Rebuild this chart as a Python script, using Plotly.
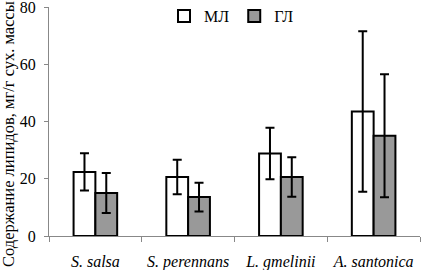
import plotly.graph_objects as go

categories = ["S. salsa", "S. perennans", "L. gmelinii", "A. santonica"]
ml_values = [22.4, 20.6, 28.8, 43.5]
ml_errors = [6.5, 6.0, 9.0, 28.0]
gl_values = [15.0, 13.6, 20.6, 35.0]
gl_errors = [7.0, 5.0, 6.9, 21.5]
series_names = ["МЛ", "ГЛ"]
y_ticks = [0, 20, 40, 60, 80]
y_title = "Содержание липидов, мг/г сух. массы"

font_family = "Liberation Serif"
cat_labels = [f"<i>{c}</i>" for c in categories]

fig = go.Figure()
fig.add_trace(go.Bar(
    x=cat_labels, y=ml_values, name=series_names[0],
    marker=dict(color="white", line=dict(color="black", width=2)),
    error_y=dict(type="data", array=ml_errors, color="black", thickness=2, width=4.5),
))
fig.add_trace(go.Bar(
    x=cat_labels, y=gl_values, name=series_names[1],
    marker=dict(color="#999999", line=dict(color="black", width=2)),
    error_y=dict(type="data", array=gl_errors, color="black", thickness=2, width=4.5),
))

fig.update_layout(
    width=421, height=270,
    margin=dict(l=49, r=1, t=7, b=34, autoexpand=False),
    paper_bgcolor="white", plot_bgcolor="white",
    barmode="group", bargap=0.53, bargroupgap=0,
    font=dict(family=font_family, size=15, color="black"),
    showlegend=True,
    legend=dict(orientation="h", x=0.31, y=0.96, xanchor="left", yanchor="middle",
                font=dict(size=16), bgcolor="rgba(0,0,0,0)",
                itemwidth=30, tracegroupgap=0),
    annotations=[dict(
        text=y_title, textangle=-90, xref="paper", yref="paper",
        x=(8 - 49) / 371, y=(236 - 134) / 229, xanchor="center", yanchor="middle",
        showarrow=False, font=dict(size=16.5),
    )],
)
fig.update_xaxes(
    type="category", range=[-0.5, 3.5], automargin=False,
    showline=True, linecolor="#888888", linewidth=1,
    ticks="outside", tickson="boundaries", ticklen=5, tickcolor="#888888",
    ticklabelstandoff=11, tickfont=dict(size=16), ticklabeloverflow="allow",
    showgrid=False,
)
fig.update_yaxes(
    range=[0, 80], tickvals=y_ticks, automargin=False,
    showline=True, linecolor="#888888", linewidth=1,
    ticks="outside", ticklen=4, tickcolor="#888888",
    showgrid=False, zeroline=False, ticklabeloverflow="allow",
    tickfont=dict(size=16), ticklabelstandoff=5,
)

fig.write_html(
    "out.html",
    config={"displayModeBar": False},
    post_script="document.body.style.margin='0';document.body.style.overflow='hidden';",
)
